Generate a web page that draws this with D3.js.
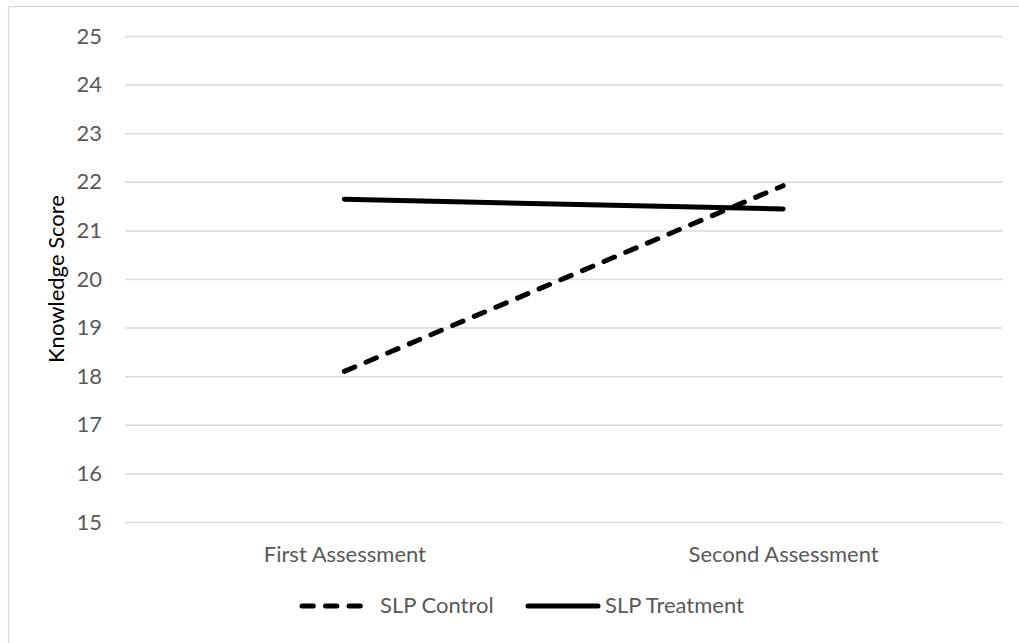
<!DOCTYPE html>
<html>
<head>
<meta charset="utf-8">
<script src="https://cdn.jsdelivr.net/npm/d3@7"></script>
<style>
  html, body { margin: 0; padding: 0; background: #ffffff; }
  svg { display: block; }
  text { font-family: Lato, "Liberation Sans", sans-serif; }
</style>
</head>
<body>
<svg id="chart" width="1019" height="643"></svg>
<script>
// Assessment categories along the x axis
const categories = ["First Assessment", "Second Assessment"];
// Mean knowledge scores per group
const controlScores = [18.10, 21.92];
const treatmentScores = [21.64, 21.44];
// Series names shown in the legend
const seriesNames = ["SLP Control", "SLP Treatment"];
// Y axis tick values
const yTicks = [15, 16, 17, 18, 19, 20, 21, 22, 23, 24, 25];
const yTitle = "Knowledge Score";

const W = 1019, H = 643;
const plot = { left: 125, right: 1002.5, top: 36, bottom: 522 };
const fontSize = 22;
const labelColor = "#595959";
const gridColor = "#d9d9d9";
const lineWidth = 5;

const svg = d3.select("#chart");

// Chart frame
svg.append("rect")
  .attr("x", 8.5).attr("y", 6.5)
  .attr("width", W).attr("height", H)
  .attr("fill", "#ffffff")
  .attr("stroke", gridColor)
  .attr("stroke-width", 1.3);

const x = d3.scalePoint()
  .domain(categories)
  .range([plot.left, plot.right])
  .padding(0.5);

const y = d3.scaleLinear()
  .domain([d3.min(yTicks), d3.max(yTicks)])
  .range([plot.bottom, plot.top]);

// Horizontal gridlines with value labels
const yAxis = svg.append("g")
  .attr("transform", `translate(${plot.left},0)`)
  .call(d3.axisLeft(y)
    .tickValues(yTicks)
    .tickFormat(d3.format("d"))
    .tickSize(-(plot.right - plot.left))
    .tickPadding(23));
yAxis.select(".domain").remove();
yAxis.selectAll(".tick line")
  .attr("stroke", gridColor)
  .attr("stroke-width", 1.5);
yAxis.selectAll(".tick text")
  .attr("fill", labelColor)
  .style("font-size", fontSize + "px");

// Category labels
const xAxis = svg.append("g")
  .attr("transform", `translate(0,${plot.bottom})`)
  .call(d3.axisBottom(x).tickSize(0).tickPadding(24));
xAxis.select(".domain").remove();
xAxis.selectAll(".tick text")
  .attr("fill", labelColor)
  .style("font-size", fontSize + "px");

// Y axis title
svg.append("text")
  .attr("transform", `translate(64,${(plot.top + plot.bottom) / 2}) rotate(-90)`)
  .attr("text-anchor", "middle")
  .attr("fill", "#000000")
  .style("font-size", fontSize + "px")
  .text(yTitle);

// Series definitions
const dashPattern = "11.3,12.2";
const series = [
  { name: seriesNames[0], values: controlScores, dash: dashPattern },
  { name: seriesNames[1], values: treatmentScores, dash: null }
];

const line = d3.line()
  .x((d, i) => x(categories[i]))
  .y(d => y(d));

svg.append("g")
  .selectAll("path")
  .data(series)
  .join("path")
  .attr("d", d => line(d.values))
  .attr("fill", "none")
  .attr("stroke", "#000000")
  .attr("stroke-width", lineWidth)
  .attr("stroke-linecap", "round")
  .attr("stroke-linejoin", "round")
  .attr("stroke-dasharray", d => d.dash);

// Legend
const legendY = 606;
const legendItemX = [302, 528];
const sampleLen = 70;
const legend = svg.append("g")
  .selectAll("g")
  .data(series)
  .join("g")
  .attr("transform", (d, i) => `translate(${legendItemX[i]},${legendY})`);

legend.append("line")
  .attr("x1", 0).attr("x2", sampleLen)
  .attr("y1", 0).attr("y2", 0)
  .attr("stroke", "#000000")
  .attr("stroke-width", lineWidth)
  .attr("stroke-linecap", "round")
  .attr("stroke-dasharray", d => d.dash);

legend.append("text")
  .attr("x", (d, i) => i === 0 ? 78 : 77)
  .attr("y", 7)
  .attr("fill", labelColor)
  .style("font-size", fontSize + "px")
  .text(d => d.name);
</script>
</body>
</html>
